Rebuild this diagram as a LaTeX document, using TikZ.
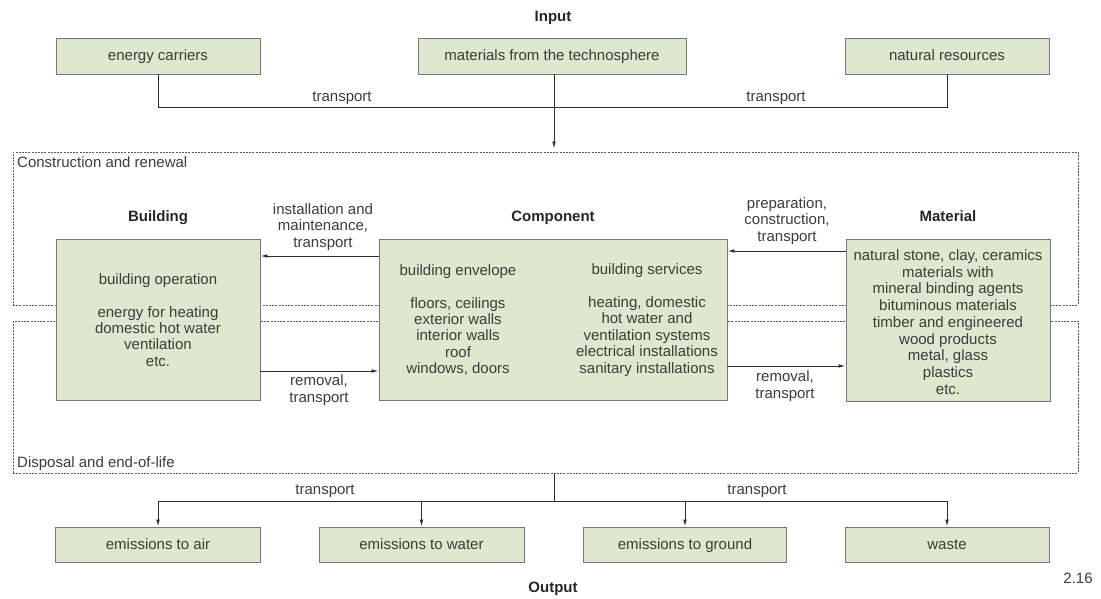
\documentclass[tikz,border=0pt]{standalone}
\usepackage{fontspec}
\setmainfont{Liberation Sans}
\usetikzlibrary{arrows.meta}
\definecolor{boxfill}{RGB}{221,232,207}
\definecolor{boxline}{RGB}{120,120,120}
\definecolor{txt}{RGB}{60,60,60}
\definecolor{conn}{RGB}{45,45,45}
\definecolor{framecol}{RGB}{90,90,90}
\begin{document}
\begin{tikzpicture}[x=1pt,y=-1pt,
  every node/.style={text=txt, font=\fontsize{15}{16.4}\selectfont, inner sep=0pt},
  one/.style={text height=11.2pt, text depth=1.8pt},
  box/.style={draw=boxline, fill=boxfill, line width=0.9pt},
  head/.style={one, font=\fontsize{15}{16.4}\selectfont\bfseries, text=black!85},
  frame/.style={draw=framecol, line width=0.8pt, dash pattern=on 2pt off 1.2pt},
  conline/.style={draw=conn, line width=0.9pt},
  arr/.style={conline, -{Latex[length=7pt,width=3.6pt]}},
  lbl/.style={align=center}]
\useasboundingbox (0,0) rectangle (1101,599);

% dashed frames
\node[frame, minimum width=1065pt, minimum height=153pt] (cr) at (545.5,228.5) {};
\node[frame, minimum width=1065pt, minimum height=152pt] (dp) at (545.5,397) {};
\node[one, anchor=west] (crl) at (17,163) {Construction and renewal};
\node[one, anchor=west] (dpl) at (17,463) {Disposal and end-of-life};

% input
\node[head] (inp) at (553,17) {Input};
\node[box, one, minimum width=204pt, minimum height=36pt] (ec) at (158,56) {energy carriers};
\node[box, one, minimum width=268pt, minimum height=36pt] (mt) at (552,56) {materials from the technosphere};
\node[box, one, minimum width=204pt, minimum height=36pt] (nr) at (947,56) {natural resources};
\coordinate (hub) at (554,107);
\draw[conline] (ec.south) -- (ec.south |- hub) -- (nr.south |- hub) -- (nr.south);
\draw[arr, shorten >=3pt] (hub |- mt.south) -- (hub |- cr.north);
\node[one] (t1) at (342,97) {transport};
\node[one] (t2) at (776,97) {transport};

% headings
\node[head] (hb) at (158,217) {Building};
\node[head] (hc) at (553,217) {Component};
\node[head] (hm) at (948,217) {Material};

% main boxes
\node[box, minimum width=204pt, minimum height=161pt] (bld) at (158,319.5) {};
\node[box, minimum width=348pt, minimum height=161pt] (cmp) at (553,319.5) {};
\node[box, minimum width=204pt, minimum height=162pt] (mat) at (948,320) {};

\node[lbl] (bldt) at (158,320) {building operation\\[16.4pt]energy for heating\\domestic hot water\\ventilation\\etc.};
\node[lbl] (cmpa) at (458,320) {building envelope\\[16.4pt]floors, ceilings\\exterior walls\\interior walls\\roof\\windows, doors};
\node[lbl] (cmpb) at (647,320) {building services\\[16.4pt]heating, domestic\\hot water and\\ventilation systems\\electrical installations\\sanitary installations};
\node[lbl, font=\fontsize{15}{16.75}\selectfont] (matt) at (948,322) {natural stone, clay, ceramics\\materials with\\mineral binding agents\\bituminous materials\\timber and engineered\\wood products\\metal, glass\\plastics\\etc.};

% horizontal connectors
\draw[arr] (cmp.west |- 0,256) -- (bld.east |- 0,256);
\draw[arr] (bld.east |- 0,371) -- (cmp.west |- 0,371);
\draw[arr] (mat.west |- 0,251) -- (cmp.east |- 0,251);
\draw[arr] (cmp.east |- 0,366) -- (mat.west |- 0,366);
\node[lbl] (l1) at (323,227) {installation and\\maintenance,\\transport};
\node[lbl] (l2) at (319,390) {removal,\\transport};
\node[lbl] (l3) at (787,221) {preparation,\\construction,\\transport};
\node[lbl] (l4) at (785,386) {removal,\\transport};

% output
\node[box, one, minimum width=205pt, minimum height=35pt] (air) at (158,544.5) {emissions to air};
\node[box, one, minimum width=205pt, minimum height=35pt] (water) at (421.5,544.5) {emissions to water};
\node[box, one, minimum width=203pt, minimum height=35pt] (ground) at (685,544.5) {emissions to ground};
\node[box, one, minimum width=204pt, minimum height=35pt] (waste) at (947,544.5) {waste};
\coordinate (ohub) at (554,501);
\draw[conline] (ohub |- dp.south) -- (ohub);
\draw[conline] (air.north |- ohub) -- (waste.north |- ohub);
\draw[arr] (air.north |- ohub) -- (air.north);
\draw[arr] (water.north |- ohub) -- (water.north);
\draw[arr] (ground.north |- ohub) -- (ground.north);
\draw[arr] (waste.north |- ohub) -- (waste.north);
\node[one] (t3) at (325,490) {transport};
\node[one] (t4) at (757,490) {transport};
\node[head] (outp) at (553,588) {Output};
\node[one] (fig) at (1078,579) {2.16};
\end{tikzpicture}
\end{document}
